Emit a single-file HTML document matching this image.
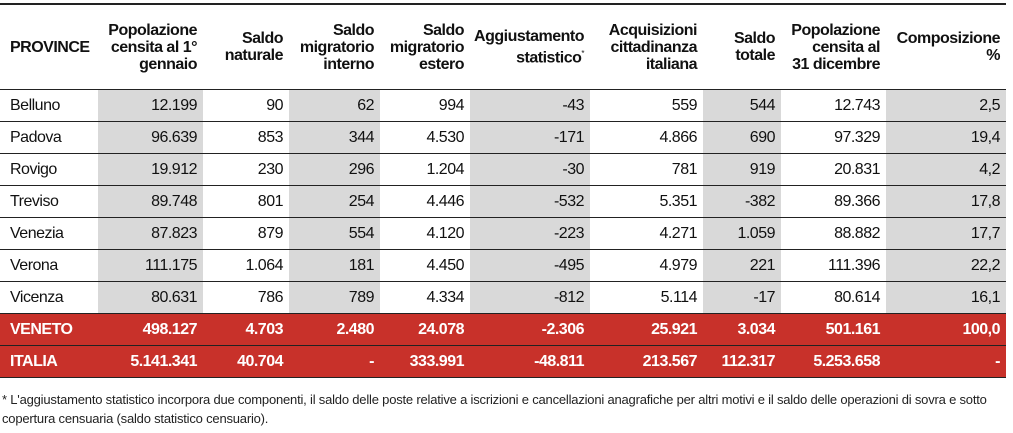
<!DOCTYPE html>
<html><head><meta charset="utf-8"><style>
body{margin:0;width:1013px;height:433px;background:#fff;font-family:"Liberation Sans Narrow","Liberation Sans",Arial,sans-serif;color:#111;overflow:hidden;position:relative}
table{position:absolute;left:0;top:3px;border-collapse:collapse;table-layout:fixed;width:1006px}
td,th{padding:0 6px 0 0;text-align:right;font-size:16px;letter-spacing:-0.5px;white-space:nowrap;overflow:hidden}
th{font-weight:bold;height:84px;line-height:17px;border-top:2px solid #222;border-bottom:1px solid #222;vertical-align:middle}
td{height:31px;border-bottom:1px solid #222}
td:first-child,th:first-child{text-align:left;padding-left:10px}
tr.r td:nth-child(2n){background:#d9d9d9}
tr.red td{background:#c8312a;color:#fff;font-weight:bold}
sup{font-size:8px;font-weight:normal}
.f{position:absolute;left:2px;top:390px;font-size:13px;letter-spacing:-0.2px;line-height:19px;color:#222;white-space:nowrap}
</style></head><body>
<table>
<colgroup><col style="width:98px"><col style="width:105px"><col style="width:86px"><col style="width:91px"><col style="width:90px"><col style="width:120px"><col style="width:113px"><col style="width:78px"><col style="width:105px"><col style="width:120px"></colgroup>
<tr><th>PROVINCE</th><th>Popolazione<br>censita al 1°<br>gennaio</th><th>Saldo<br>naturale</th><th>Saldo<br>migratorio<br>interno</th><th>Saldo<br>migratorio<br>estero</th><th>Aggiustamento<br>statistico<sup>*</sup></th><th>Acquisizioni<br>cittadinanza<br>italiana</th><th>Saldo<br>totale</th><th>Popolazione<br>censita al<br>31 dicembre</th><th>Composizione<br>%</th></tr>
<tr class="r"><td>Belluno</td><td>12.199</td><td>90</td><td>62</td><td>994</td><td>-43</td><td>559</td><td>544</td><td>12.743</td><td>2,5</td></tr>
<tr class="r"><td>Padova</td><td>96.639</td><td>853</td><td>344</td><td>4.530</td><td>-171</td><td>4.866</td><td>690</td><td>97.329</td><td>19,4</td></tr>
<tr class="r"><td>Rovigo</td><td>19.912</td><td>230</td><td>296</td><td>1.204</td><td>-30</td><td>781</td><td>919</td><td>20.831</td><td>4,2</td></tr>
<tr class="r"><td>Treviso</td><td>89.748</td><td>801</td><td>254</td><td>4.446</td><td>-532</td><td>5.351</td><td>-382</td><td>89.366</td><td>17,8</td></tr>
<tr class="r"><td>Venezia</td><td>87.823</td><td>879</td><td>554</td><td>4.120</td><td>-223</td><td>4.271</td><td>1.059</td><td>88.882</td><td>17,7</td></tr>
<tr class="r"><td>Verona</td><td>111.175</td><td>1.064</td><td>181</td><td>4.450</td><td>-495</td><td>4.979</td><td>221</td><td>111.396</td><td>22,2</td></tr>
<tr class="r"><td>Vicenza</td><td>80.631</td><td>786</td><td>789</td><td>4.334</td><td>-812</td><td>5.114</td><td>-17</td><td>80.614</td><td>16,1</td></tr>
<tr class="red"><td>VENETO</td><td>498.127</td><td>4.703</td><td>2.480</td><td>24.078</td><td>-2.306</td><td>25.921</td><td>3.034</td><td>501.161</td><td>100,0</td></tr>
<tr class="red"><td>ITALIA</td><td>5.141.341</td><td>40.704</td><td>-</td><td>333.991</td><td>-48.811</td><td>213.567</td><td>112.317</td><td>5.253.658</td><td>-</td></tr>
</table>
<div class="f">* L'aggiustamento statistico incorpora due componenti, il saldo delle poste relative a iscrizioni e cancellazioni anagrafiche per altri motivi e il saldo delle operazioni di sovra e sotto<br>copertura censuaria (saldo statistico censuario).</div>
</body></html>
